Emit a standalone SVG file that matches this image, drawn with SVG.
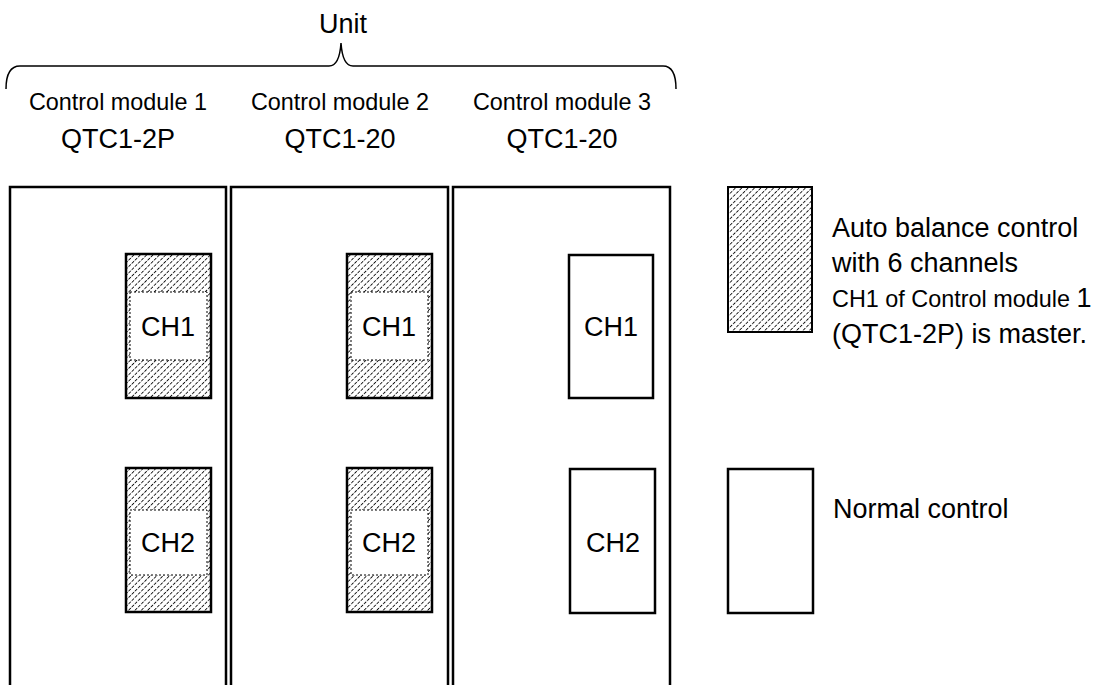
<svg xmlns="http://www.w3.org/2000/svg" width="1107" height="685" viewBox="0 0 1107 685">
<defs>
<pattern id="hatch" patternUnits="userSpaceOnUse" width="4.5" height="4.5" patternTransform="rotate(45)">
<line x1="0" y1="0" x2="0" y2="4.5" stroke="#000" stroke-width="1.7" stroke-dasharray="3.2,1.3"/>
</pattern>
<style>
text{font-family:"Liberation Sans",Arial,sans-serif;fill:#000}
.big{font-size:27px}
.sm{font-size:23.4px}
.mod{fill:none;stroke:#000;stroke-width:2.5}
.ch{fill:url(#hatch);stroke:#000;stroke-width:2.5}
.win{fill:#fff;stroke:#000;stroke-width:1;stroke-dasharray:2,2}
.norm{fill:#fff;stroke:#000;stroke-width:2.5}
</style>
</defs>
<rect width="1107" height="685" fill="#fff"/>
<g id="unit">
<text class="big" x="343" y="33" text-anchor="middle">Unit</text>
<path d="M6,89 C6,75 10,66 20,66 L329,66 C336,66 340,58 341,43 C342,58 346,66 353,66 L663,66 C672,66 676,75 676,89" fill="none" stroke="#000" stroke-width="1.5"/>
</g>
<g id="module1">
<text class="sm" x="118" y="110" text-anchor="middle">Control module 1</text>
<text class="big" x="118" y="148" text-anchor="middle">QTC1-2P</text>
<path class="mod" d="M10,690 V187 H226 V690"/>
</g>
<g id="module2">
<text class="sm" x="340" y="110" text-anchor="middle">Control module 2</text>
<text class="big" x="340" y="148" text-anchor="middle">QTC1-20</text>
<path class="mod" d="M231,690 V187 H448 V690"/>
</g>
<g id="module3">
<text class="sm" x="562" y="110" text-anchor="middle">Control module 3</text>
<text class="big" x="562" y="148" text-anchor="middle">QTC1-20</text>
<path class="mod" d="M453,690 V187 H670 V690"/>
</g>
<g id="m1ch1">
<rect class="ch" x="126" y="254" width="85" height="144"/>
<rect class="win" x="130" y="292" width="77" height="68"/>
<text class="big" x="168" y="336" text-anchor="middle">CH1</text>
</g>
<g id="m1ch2">
<rect class="ch" x="126" y="468" width="85" height="144"/>
<rect class="win" x="130" y="510" width="77" height="65"/>
<text class="big" x="168" y="552" text-anchor="middle">CH2</text>
</g>
<g id="m2ch1">
<rect class="ch" x="347" y="254" width="85" height="144"/>
<rect class="win" x="351" y="292" width="77" height="68"/>
<text class="big" x="389" y="336" text-anchor="middle">CH1</text>
</g>
<g id="m2ch2">
<rect class="ch" x="347" y="468" width="85" height="144"/>
<rect class="win" x="351" y="510" width="77" height="65"/>
<text class="big" x="389" y="552" text-anchor="middle">CH2</text>
</g>
<g id="m3ch1">
<rect class="norm" x="569" y="255" width="84" height="143"/>
<text class="big" x="611" y="336" text-anchor="middle">CH1</text>
</g>
<g id="m3ch2">
<rect class="norm" x="570" y="469" width="85" height="144"/>
<text class="big" x="613" y="552" text-anchor="middle">CH2</text>
</g>
<g id="legend-auto">
<rect x="728" y="187" width="84" height="145" fill="url(#hatch)" stroke="#000" stroke-width="2"/>
<text class="big" x="832" y="237">Auto balance control</text>
<text class="big" x="832" y="272">with 6 channels</text>
<text x="832" y="307"><tspan class="sm">CH1 of Control module </tspan><tspan class="big">1</tspan></text>
<text class="big" x="832" y="343">(QTC1-2P) is master.</text>
</g>
<g id="legend-normal">
<rect class="norm" x="728" y="469" width="85" height="144"/>
<text class="big" x="833" y="518">Normal control</text>
</g>
<g id="connectors"></g>
</svg>
